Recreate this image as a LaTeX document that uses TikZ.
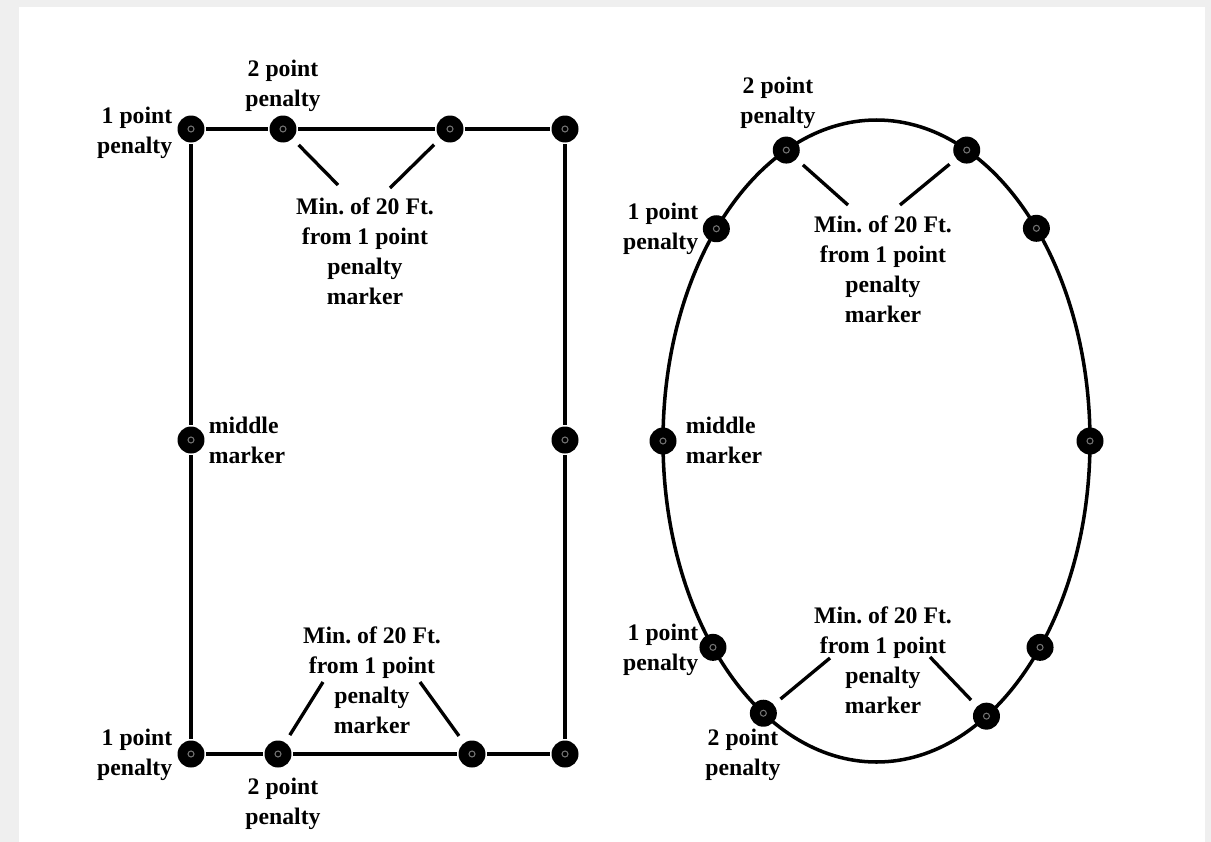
\documentclass[tikz,border=0pt]{standalone}
\usepackage{fontspec}
\setmainfont{Liberation Serif}
\definecolor{framegray}{HTML}{EFEFEF}
\tikzset{
  marker/.style={circle,fill=black,inner sep=0pt,minimum size=0.54cm,
    path picture={\draw[black!55,line width=0.6pt]
      (path picture bounding box.center) circle (0.06cm);}},
  note/.style={font=\bfseries\fontsize{13.5}{17}\selectfont,inner sep=0pt},
  leader/.style={line width=1.9pt,shorten <=4pt},
}
\begin{document}
\begin{tikzpicture}[x=0.02cm,y=-0.02cm,line width=2pt]
      \fill[framegray] (0,0) rectangle (1211,842);
      \fill[white] (19,7) rectangle (1205,842);
      % rectangular course
      \draw
        (191,129) node[marker] (r0){}
        (283,129) node[marker] (r1){}
        (450,129) node[marker] (r2){}
        (565,129) node[marker] (r3){}
        (191,440) node[marker] (r4){}
        (565,440) node[marker] (r5){}
        (191,754) node[marker] (r6){}
        (278,754) node[marker] (r7){}
        (472,754) node[marker] (r8){}
        (565,754) node[marker] (r9){};
      \draw (r0) -- (r1) -- (r2) -- (r3) -- (r5) -- (r9) -- (r8) -- (r7) -- (r6) -- (r4) -- (r0);
      % oval course
      \draw (876.5,441) ellipse [x radius=213.5, y radius=321];
      \begin{scope}[shift={(876.5,441)}]
        \draw
          (-115:213.5 and 321) node[marker] (e0){}
          (-65:213.5 and 321) node[marker] (e1){}
          (-138.6:213.5 and 321) node[marker] (e2){}
          (-41.5:213.5 and 321) node[marker] (e3){}
          (180:213.5 and 321) node[marker] (e4){}
          (0:213.5 and 321) node[marker] (e5){}
          (140:213.5 and 321) node[marker] (e6){}
          (40:213.5 and 321) node[marker] (e7){}
          (122:213.5 and 321) node[marker] (e8){}
          (59:213.5 and 321) node[marker] (e9){};
      \end{scope}
      % labels, rectangle
      \node[note,align=right,anchor=east] (rp0) at (174,133) {1 point\\penalty};
      \node[note,align=center] (rq0) at (283,86) {2 point\\penalty};
      \node[note,align=center] (rm0) at (365,251) {Min.\ of 20 Ft.\\from 1 point\\penalty\\marker};
      \node[note,align=left,anchor=west] (rmid) at (207,440) {middle\\marker};
      \node[note,align=center] (rm1) at (372,680) {Min.\ of 20 Ft.\\from 1 point\\penalty\\marker};
      \node[note,align=right,anchor=east] (rp1) at (174,755) {1 point\\penalty};
      \node[note,align=center] (rq1) at (283,804) {2 point\\penalty};
      % labels, oval
      \node[note,align=center] (eq0) at (778,103) {2 point\\penalty};
      \node[note,align=center] (em0) at (883,269) {Min.\ of 20 Ft.\\from 1 point\\penalty\\marker};
      \node[note,align=right,anchor=east] (ep0) at (700,229) {1 point\\penalty};
      \node[note,align=left,anchor=west] (emid) at (684,440) {middle\\marker};
      \node[note,align=right,anchor=east] (ep1) at (700,650) {1 point\\penalty};
      \node[note,align=center] (em1) at (883,660) {Min.\ of 20 Ft.\\from 1 point\\penalty\\marker};
      \node[note,align=center] (eq1) at (743,755) {2 point\\penalty};
      % leader ends
      \coordinate (ra) at (338,185);
      \coordinate (rb) at (390,188);
      \coordinate (rc) at (323,682);
      \coordinate (rd) at (420,682);
      \coordinate (ea) at (848,205);
      \coordinate (eb) at (900,205);
      \coordinate (ec) at (830,658);
      \coordinate (ed) at (930,657);
      \begin{scope}[leader]
        \draw (r1) to (ra);
        \draw (r2) to (rb);
        \draw (r7) to (rc);
        \draw (r8) to (rd);
        \draw (e0) to (ea);
        \draw (e1) to (eb);
        \draw (e8) to (ec);
        \draw (e9) to (ed);
      \end{scope}
    \end{tikzpicture}
\end{document}
